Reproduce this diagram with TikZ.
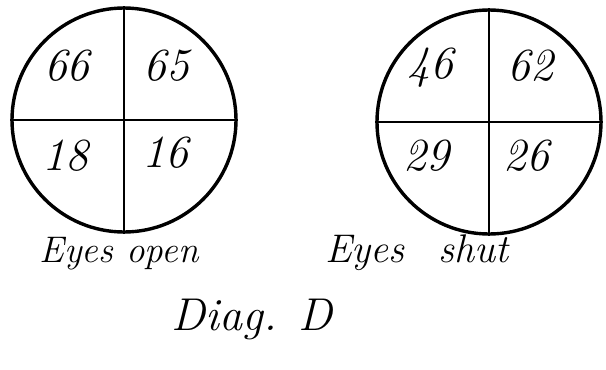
\documentclass[tikz,border=0pt]{standalone}
\usepackage{fontspec}
\begin{document}
\begin{tikzpicture}[x=1pt,y=-1pt,
  ring/.style={line width=3.4pt},
  cross/.style={line width=2.8pt},
  num/.style={font=\fontsize{46}{46}\selectfont\itshape, inner sep=0pt},
  lab/.style={font=\fontsize{37}{37}\selectfont\itshape, inner sep=0pt, anchor=base}]
\useasboundingbox (0,0) rectangle (606,370);
% left circle
\node[ring, draw, circle, minimum size=224pt, inner sep=0pt] (L) at (124,120) {};
\draw[cross] (L.north) -- (L.south);
\draw[cross] (L.west) -- (L.east);
\node[num] (l1) at (67,66) {66};
\node[num] (l2) at (166,66) {65};
\node[num] (l3) at (65,156) {18};
\node[num] (l4) at (165,153) {16};
% right circle
\node[ring, draw, circle, minimum size=224pt, inner sep=0pt] (R) at (489,122) {};
\draw[cross] (R.north) -- (R.south);
\draw[cross] (R.west) -- (R.east);
\node[num] (r1) at (430,68) {46};
\node[num] (r2) at (530,66) {62};
\node[num] (r3) at (426,156) {29};
\node[num] (r4) at (526,156) {26};
% labels
\node[lab] (eo) at (119,262) {Eyes open};
\node[lab, font=\fontsize{40}{40}\selectfont\itshape] (es) at (417,262) {Eyes\,\,\, shut};
\node[lab, font=\fontsize{46}{46}\selectfont\itshape] (dd) at (252,330) {Diag. D};
\end{tikzpicture}
\end{document}
